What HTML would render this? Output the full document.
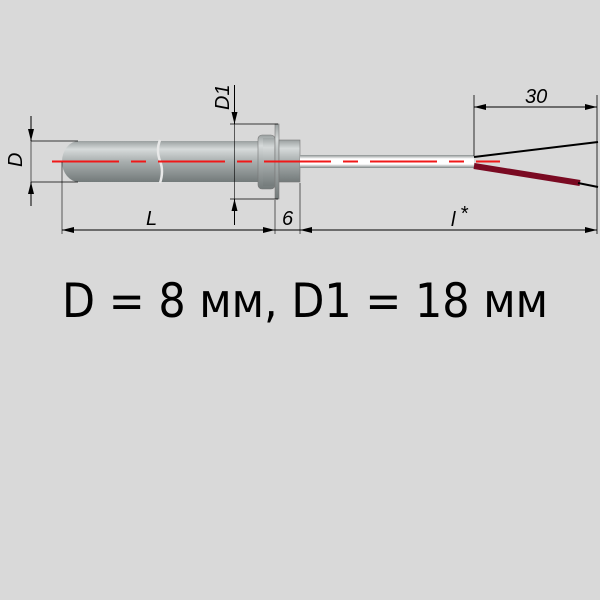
<!DOCTYPE html>
<html><head><meta charset="utf-8"><style>
html,body{margin:0;padding:0;background:#d9d9d9;}
svg{display:block;}
</style></head><body>
<svg width="600" height="600" viewBox="0 0 600 600" xmlns="http://www.w3.org/2000/svg">
<defs>
<linearGradient id="g" x1="0" y1="0" x2="0" y2="1">
<stop offset="0" stop-color="#9aa0a0"/><stop offset="0.2" stop-color="#d6dada"/><stop offset="0.5" stop-color="#a9afaf"/><stop offset="1" stop-color="#737a7a"/>
</linearGradient>
<linearGradient id="t" x1="0" y1="0" x2="0" y2="1">
<stop offset="0" stop-color="#8a9090"/><stop offset="0.3" stop-color="#ffffff"/><stop offset="0.7" stop-color="#ffffff"/><stop offset="1" stop-color="#7d8484"/>
</linearGradient>
<marker id="a" viewBox="0 0 12 6" refX="12" refY="3" markerWidth="12" markerHeight="6" orient="auto-start-reverse" markerUnits="userSpaceOnUse"><path d="M0,0L12,3L0,6z" fill="#000"/></marker>
</defs>
<rect width="600" height="600" fill="#d9d9d9"/>
<path d="M79,141 L258,141 L258,182 L79,182 A17,20.5 0 0 1 79,141 Z" fill="url(#g)"/>
<path d="M160,140 q-4,10 0,21 q4,10 0,22" stroke="#e8e8e8" stroke-width="2.5" fill="none"/>
<rect x="258" y="135" width="17" height="54" rx="4" fill="url(#g)" stroke="#777" stroke-width="0.6"/>
<rect x="263" y="138" width="11" height="48" fill="url(#g)" opacity="0.7"/>
<rect x="275" y="124" width="4" height="75" fill="url(#g)" stroke="#777" stroke-width="0.6"/>
<rect x="279" y="140" width="21" height="42" fill="url(#g)" stroke="#777" stroke-width="0.6"/>
<rect x="300" y="155" width="174" height="13" fill="url(#t)"/>
<line x1="52" y1="161.5" x2="500" y2="161.5" stroke="#f01818" stroke-width="2" stroke-dasharray="67,12,15,12"/>
<line x1="474" y1="157" x2="598" y2="142" stroke="#000" stroke-width="2"/>
<line x1="474" y1="166" x2="580" y2="183" stroke="#7a0a22" stroke-width="6"/>
<line x1="578" y1="183" x2="598" y2="187" stroke="#000" stroke-width="2"/>
<g stroke="#000" stroke-width="1" fill="none">
<line x1="31" y1="141" x2="78" y2="141" stroke-width="0.8"/>
<line x1="31" y1="182" x2="78" y2="182" stroke-width="0.8"/>
<line x1="31" y1="116" x2="31" y2="141" marker-end="url(#a)"/>
<line x1="31" y1="206" x2="31" y2="182" marker-end="url(#a)"/>
<line x1="31" y1="141" x2="31" y2="182" stroke-width="0.6"/>
<line x1="230" y1="124" x2="278" y2="124" stroke-width="0.8"/>
<line x1="230" y1="199" x2="278" y2="199" stroke-width="0.8"/>
<line x1="234.5" y1="85" x2="234.5" y2="124" marker-end="url(#a)"/>
<line x1="234.5" y1="225" x2="234.5" y2="199" marker-end="url(#a)"/>
<line x1="234.5" y1="124" x2="234.5" y2="199" stroke-width="0.6"/>
<line x1="62" y1="162" x2="62" y2="234" stroke-width="0.6"/>
<line x1="275" y1="200" x2="275" y2="234" stroke-width="0.6"/>
<line x1="300" y1="183" x2="300" y2="234" stroke-width="0.6"/>
<line x1="597" y1="95" x2="597" y2="234" stroke-width="0.8"/>
<line x1="474" y1="95" x2="474" y2="156" stroke-width="0.8"/>
<line x1="62" y1="230" x2="275" y2="230" marker-start="url(#a)" marker-end="url(#a)"/>
<line x1="255" y1="230" x2="300" y2="230"/>
<line x1="300" y1="230" x2="597" y2="230" marker-start="url(#a)" marker-end="url(#a)"/>
<line x1="474" y1="107" x2="597" y2="107" marker-start="url(#a)" marker-end="url(#a)"/>
</g>
<g font-family="'Liberation Sans',sans-serif" font-style="italic" font-size="20" fill="#000">
<text x="22" y="167" transform="rotate(-90 22 167)">D</text>
<text x="229" y="110" transform="rotate(-90 229 110)">D1</text>
<text x="146" y="225">L</text>
<text x="282" y="225">6</text>
<text x="451" y="226">l</text>
<text x="460" y="220" font-size="20">*</text>
<text x="525" y="103">30</text>
</g>
<text x="62" y="317" font-family="'DejaVu Sans','Liberation Sans',sans-serif" font-size="47" textLength="486" lengthAdjust="spacingAndGlyphs" fill="#000">D = 8 мм, D1 = 18 мм</text>
</svg>
</body></html>
